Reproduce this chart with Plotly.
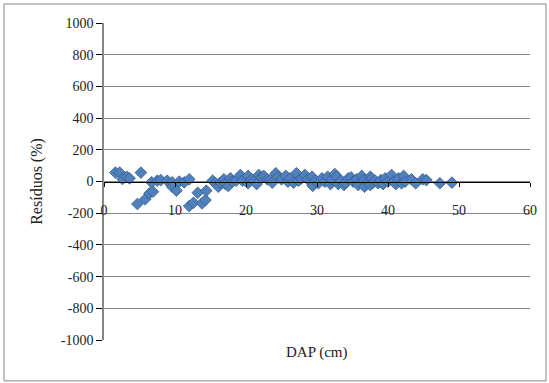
import plotly.graph_objects as go

dap = [1.6, 2.2, 2.6, 3.2, 3.6, 5.2, 4.7, 5.8, 6.4, 6.9, 6.7, 7.5, 8.0, 8.9, 9.6, 9.6, 10.2, 10.6, 11.3, 12.0,
       12.0, 12.6, 13.2, 13.8, 14.3, 14.4,
       15.3, 15.7, 16.1, 16.4, 16.9, 17.1, 17.5, 17.8, 18.1, 18.6, 19.2, 19.5, 20.3, 20.3, 20.8, 21.2, 21.5,
       21.8, 22.2, 22.5, 23.0, 23.4, 23.7, 24.2, 24.5, 25.0, 25.6, 25.9, 26.2,
       26.7, 27.1, 27.4, 27.8, 28.3, 28.7, 29.3, 29.4, 29.8, 30.2, 30.7, 31.1, 31.5, 31.9, 32.1, 32.5, 32.8,
       33.0, 33.4, 33.8, 34.0, 34.4, 34.8, 35.1, 35.6, 35.8, 36.3, 36.6, 36.7, 37.2, 37.5,
       37.5, 37.7, 37.9, 38.2, 38.6, 39.0, 39.3, 39.6, 40.0, 40.5, 40.8, 41.1, 41.5, 41.9, 42.2, 42.4,
       43.3, 43.9, 44.9, 45.4, 47.3, 49.0]
residuos = [56, 56, 16, 30, 20, 56, -142, -112, -75, -64, -5, 5, 9, 5, -5, -33, -58, -1, -5, 14,
            -155, -134, -71, -138, -117, -58,
            5, -11, -33, -7, 14, -16, -28, 20, -1, 5, 41, 5, 35, -11, 14, 5, -16,
            41, 26, 35, 14, 9, -7, 52, 26, 14, 35, -1, 20,
            -7, 52, 5, 20, 41, 14, 30, -28, 5, -11, 20, -1, 30, -16, 14, 47, 30,
            -16, 5, -22, -7, 20, 26, -1, 14, -22, 35, 9, -33, -1, 30,
            -22, 20, -7, 5, -11, 9, -16, 20, -1, 41, -1, -16, 20, -11, 35, -1,
            14, -11, 14, 9, -11, -7]

x_ticks = [0, 10, 20, 30, 40, 50, 60]
y_ticks = [-1000, -800, -600, -400, -200, 0, 200, 400, 600, 800, 1000]

FONT = "'Times New Roman', 'Liberation Serif', serif"
GRAY = "#868686"

fig = go.Figure()
fig.add_trace(go.Scatter(
    x=dap, y=residuos, mode="markers",
    marker=dict(symbol="diamond", size=9, color="#4F81BD",
                line=dict(color="#385D8A", width=0.8)),
    showlegend=False, hoverinfo="x+y",
))

fig.update_layout(
    width=549, height=383,
    margin=dict(l=104, r=19, t=23, b=43),
    paper_bgcolor="white", plot_bgcolor="white",
    font=dict(family=FONT, size=14, color="black"),
    xaxis=dict(range=[0, 60], tickvals=x_ticks, ticktext=[str(v) for v in x_ticks],
               anchor="free", position=0.5, showline=True, linecolor="black", linewidth=1,
               ticks="outside", ticklen=4, tickcolor="black", showgrid=False, zeroline=False,
               ticklabelstandoff=12, tickfont=dict(family=FONT, size=14, color="#222")),
    yaxis=dict(range=[-1000, 1000], tickvals=y_ticks, ticktext=[str(v) for v in y_ticks],
               showline=True, linecolor=GRAY, linewidth=1.5, ticks="outside", ticklen=6,
               tickcolor="black", showgrid=True, gridcolor=GRAY, gridwidth=1, zeroline=False,
               tickfont=dict(family=FONT, size=14, color="#222"),
               title=dict(text="Resíduos (%)", font=dict(family=FONT, size=16, color="#222"),
                          standoff=14)),
    annotations=[dict(text="DAP (cm)", xref="paper", yref="paper", x=0.5, y=-0.038,
                      xanchor="center", yanchor="middle", showarrow=False,
                      font=dict(family=FONT, size=15, color="#222"))],
    shapes=[dict(type="rect", xref="paper", yref="paper", x0=-0.2347, x1=1.0376,
                 y0=-0.129, y1=1.06, line=dict(color=GRAY, width=1), layer="above")],
)

fig.write_html("out.html",
               post_script="document.body.style.margin='0';document.body.style.overflow='hidden';"
                           "var mb=document.querySelector('.modebar-container');if(mb){mb.style.display='none';}")
